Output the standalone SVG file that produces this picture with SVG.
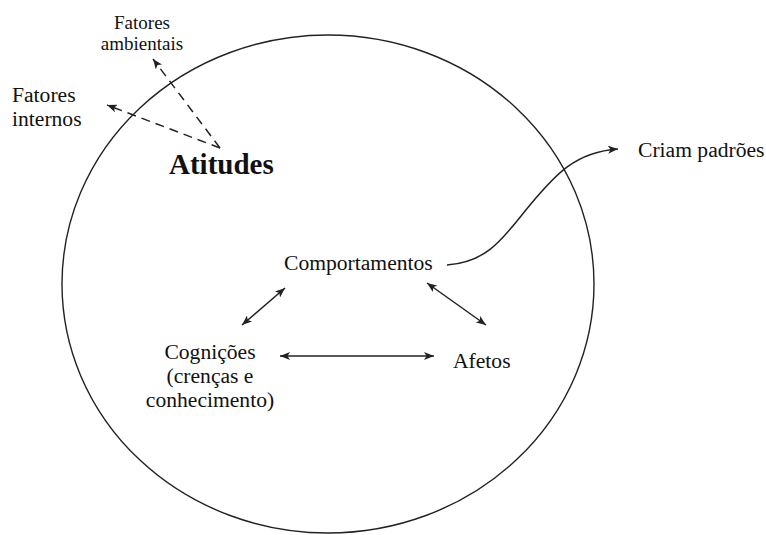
<svg xmlns="http://www.w3.org/2000/svg" width="766" height="535" viewBox="0 0 766 535">
<style>
text{font-family:"Liberation Serif","Times New Roman",serif;fill:#111;}
.t{font-size:21.6px;}
.s{font-size:19px;}
.b{font-size:29px;font-weight:bold;}
.ln{fill:none;stroke:#222;stroke-width:1.5;}
.d{stroke-dasharray:9 6;}
</style>
<defs>
<marker id="ah" markerWidth="10" markerHeight="8" refX="10" refY="4" orient="auto-start-reverse" markerUnits="userSpaceOnUse">
<path d="M0,0 L10,4 L0,8 L2.5,4 z" fill="#222"/>
</marker>
</defs>
<g id="circle">
<ellipse cx="328" cy="284" rx="266" ry="249" fill="none" stroke="#222" stroke-width="1.4"/>
</g>
<g id="atitudes"><text class="b" x="169" y="174">Atitudes</text></g>
<g id="fatores-ambientais"><text class="s" text-anchor="middle" x="142" y="29">Fatores</text><text class="s" text-anchor="middle" x="142" y="50">ambientais</text></g>
<g id="fatores-internos"><text class="t" x="12" y="102">Fatores</text><text class="t" x="12" y="126">internos</text></g>
<g id="comportamentos"><text class="t" x="284" y="270">Comportamentos</text></g>
<g id="cognicoes"><text class="t" text-anchor="middle" x="210" y="359">Cognições</text><text class="t" text-anchor="middle" x="210" y="383">(crenças e</text><text class="t" text-anchor="middle" x="210" y="407">conhecimento)</text></g>
<g id="afetos"><text class="t" x="453" y="368">Afetos</text></g>
<g id="criam"><text class="t" x="638" y="157">Criam padrões</text></g>
<g id="connectors">
<line class="ln d" x1="220" y1="148" x2="153" y2="59" marker-end="url(#ah)"/>
<line class="ln d" x1="220" y1="148" x2="107" y2="105" marker-end="url(#ah)"/>
<line class="ln" x1="285" y1="288" x2="242" y2="325" marker-start="url(#ah)" marker-end="url(#ah)"/>
<line class="ln" x1="427" y1="283" x2="486" y2="325" marker-start="url(#ah)" marker-end="url(#ah)"/>
<line class="ln" x1="280" y1="356" x2="434" y2="356" marker-start="url(#ah)" marker-end="url(#ah)"/>
<path class="ln" d="M447,265 C490,262 505,235 530,205 C555,175 575,152 618,149" marker-end="url(#ah)"/>
</g>
</svg>
